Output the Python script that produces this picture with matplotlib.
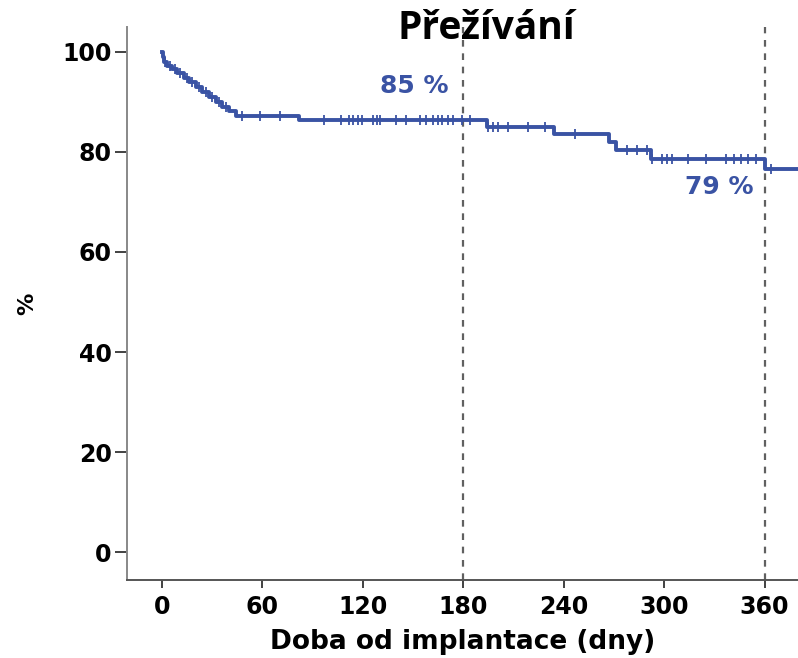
import matplotlib
matplotlib.use("Agg")
import matplotlib.pyplot as plt
import numpy as np

# Kaplan-Meier step data (days, survival %)
event_days = [0, 0.5, 1, 3, 6, 9, 13, 16, 20, 24, 28, 32, 36, 40, 44, 82, 194, 234, 267, 271, 292, 360]
survival = [100, 99, 98, 97.2, 96.6, 95.8, 94.8, 94.0, 93.0, 92.0, 91.0, 90.0, 89.0, 88.2, 87.2, 86.4, 84.9, 83.5, 81.9, 80.4, 78.6, 76.6]
end_day = 380

# censoring marks (days)
censor_days = [2, 5, 8, 11, 15, 18, 22, 26, 30, 34, 38, 48, 58.5, 70.5,
               97, 107, 112, 114, 117, 119.4, 126, 128.4, 130, 140, 146, 154, 158, 162,
               165, 167, 171, 174, 179, 184, 194.6, 197.6, 200.6, 206.6, 218.5, 228.7,
               246.6, 278, 284, 290, 293, 298.5, 301.5, 305, 314, 325, 337, 342, 346,
               350, 355, 364]

x_ticks = [0, 60, 120, 180, 240, 300, 360]
y_ticks = [0, 20, 40, 60, 80, 100]
ref_days = [180, 360]
annotations = [("85 %", 151, 93.2), ("79 %", 333, 73.0)]

title = "Přežívání"
xlabel = "Doba od implantace (dny)"
ylabel = "%"

blue = "#3A53A4"

fig = plt.figure(figsize=(7.98, 6.58), dpi=100)
ax = fig.add_axes([0.159, 0.1185, 0.841, 0.8405])

xs = list(event_days) + [end_day]
ys = list(survival) + [survival[-1]]
ax.step(xs, ys, where="post", color=blue, lw=2.8, zorder=3)

ed = np.array(event_days)
sv = np.array(survival)
cy = [sv[np.searchsorted(ed, d, side="right") - 1] for d in censor_days]
ax.plot(censor_days, cy, linestyle="none", marker="|", markersize=7,
        markeredgewidth=1.3, color=blue, zorder=4)

for d in ref_days:
    ax.axvline(d, color="#606060", lw=1.6, ls=(0, (3, 3)), zorder=2)

for txt, x, y in annotations:
    ax.text(x, y, txt, color=blue, fontsize=18, fontweight="bold",
            family="DejaVu Sans", ha="center", va="center")

ax.set_xlim(-21, 380)
ax.set_ylim(-5.6, 105)
ax.set_xticks(x_ticks)
ax.set_yticks(y_ticks)
ax.set_xticklabels([str(t) for t in x_ticks], fontsize=17, fontweight="bold",
                   family="DejaVu Sans")
ax.set_yticklabels([str(t) for t in y_ticks], fontsize=17, fontweight="bold",
                   family="DejaVu Sans")
ax.tick_params(axis="both", direction="out", width=1.3, color="#333333")
ax.tick_params(axis="x", length=6, pad=5)
ax.tick_params(axis="y", length=9, pad=2)

for s in ["top", "right"]:
    ax.spines[s].set_visible(False)
ax.spines["left"].set_color("#888888")
ax.spines["bottom"].set_color("#555555")
ax.spines["left"].set_linewidth(1.4)
ax.spines["bottom"].set_linewidth(1.4)

ax.set_xlabel(xlabel, fontsize=19, fontweight="bold", family="DejaVu Sans")
ax.xaxis.label.set_va("baseline")
ax.xaxis.set_label_coords(0.5, -0.1248)
ax.set_ylabel(ylabel, fontsize=16, fontweight="bold", family="DejaVu Sans", labelpad=18)

fig.text(0.609, 0.957, title, fontsize=28, fontweight="bold", family="Open Sans",
         ha="center", va="center")

fig.savefig("out.png", dpi=100)
